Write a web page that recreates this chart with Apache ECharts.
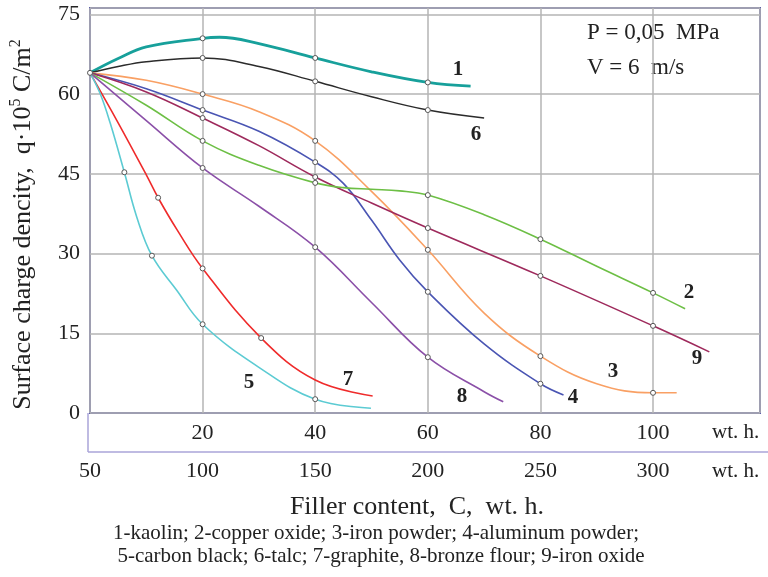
<!DOCTYPE html>
<html>
<head>
<meta charset="utf-8">
<title>Surface charge density vs filler content</title>
<script src="https://cdn.jsdelivr.net/npm/echarts@6/dist/echarts.min.js"></script>
<style>
html, body { margin: 0; padding: 0; background: #fff; }
#chart { width: 768px; height: 577px; }
</style>
</head>
<body>
<div id="chart"></div>
<script>
// values: [filler content on upper scale (wt. h.), q·10^5 C/m^2]
const kaolin = [[0, 64], [5, 66.7], [10, 68.9], [20, 70.5], [23, 70.7], [30, 69.5], [40, 66.8], [50, 64.2], [60, 62.2], [67.6, 61.5]];
const copperOxide = [[0, 64], [10, 57.9], [20, 51.2], [30, 46.6], [40, 43.3], [45, 42.4], [50, 42.1], [55, 41.8], [60, 41.0], [70, 37.3], [80, 32.7], [90, 27.6], [100, 22.6], [105.7, 19.6]];
const ironPowder = [[0, 64], [10, 62.6], [20, 60.0], [30, 56.7], [40, 51.2], [50, 41.7], [60, 30.7], [70, 18.8], [80, 10.7], [90, 5.5], [100, 3.8], [104.2, 3.8]];
const aluminumPowder = [[0, 64], [10, 61.0], [20, 57.0], [30, 53.0], [40, 47.2], [45, 43.2], [50, 36.3], [55, 28.8], [60, 22.8], [70, 13.0], [80, 5.5], [84.1, 3.4]];
const carbonBlack = [[0, 64], [1.8, 60.1], [3.6, 54.5], [6.1, 45.3], [8.3, 36.9], [11, 29.6], [15.4, 23.1], [20, 16.7], [30, 8.6], [40, 2.6], [49.9, 0.9]];
const talc = [[0, 64], [5, 65.2], [10, 66.1], [20, 66.8], [30, 65.2], [40, 62.4], [50, 59.5], [60, 57.0], [70, 55.5]];
const graphite = [[0, 64], [5, 54.6], [10, 44.8], [12.1, 40.5], [15.5, 34.4], [20, 27.2], [30.4, 14.1], [40, 6.2], [50.2, 3.2]];
const bronzeFlour = [[0, 64], [10, 55.0], [20, 46.1], [30, 38.9], [40, 31.2], [50, 20.8], [60, 10.5], [70, 4.0], [73.4, 2.1]];
const ironOxide = [[0, 64], [10, 60.4], [20, 55.5], [30, 50.3], [40, 44.4], [50, 39.5], [60, 34.8], [80, 25.8], [100, 16.4], [110, 11.5]];

// x positions that carry an open-circle marker
const kaolinMarks = [0, 20, 40, 60];
const copperOxideMarks = [20, 40, 60, 80, 100];
const ironPowderMarks = [20, 40, 60, 80, 100];
const aluminumPowderMarks = [20, 40, 60, 80];
const carbonBlackMarks = [6.1, 11, 20, 40];
const talcMarks = [20, 40, 60];
const graphiteMarks = [12.1, 20, 30.4];
const bronzeFlourMarks = [20, 40, 60];
const ironOxideMarks = [20, 40, 60, 80, 100];

const yTicks = [0, 15, 30, 45, 60, 75];
const upperTicks = [20, 40, 60, 80, 100];
const lowerTicks = [50, 100, 150, 200, 250, 300];

const FONT = 'Liberation Serif';
const TEXT = '#222';

const curves = [
    { no: '1', data: kaolin, marks: kaolinMarks, color: '#17a09b', width: 2.8, label: [458, 70] },
    { no: '6', data: talc, marks: talcMarks, color: '#2b2b2b', width: 1.5, label: [476, 135] },
    { no: '3', data: ironPowder, marks: ironPowderMarks, color: '#f9a064', width: 1.6, label: [613, 372] },
    { no: '4', data: aluminumPowder, marks: aluminumPowderMarks, color: '#4a55b3', width: 1.6, label: [573, 398] },
    { no: '9', data: ironOxide, marks: ironOxideMarks, color: '#9e2a5c', width: 1.6, label: [697, 359] },
    { no: '2', data: copperOxide, marks: copperOxideMarks, color: '#6dbf45', width: 1.6, label: [689, 293] },
    { no: '8', data: bronzeFlour, marks: bronzeFlourMarks, color: '#8b50a8', width: 1.6, label: [462, 397] },
    { no: '7', data: graphite, marks: graphiteMarks, color: '#ef2b2b', width: 1.6, label: [348, 380] },
    { no: '5', data: carbonBlack, marks: carbonBlackMarks, color: '#5ccbd3', width: 1.6, label: [249, 383] },
];

const chart = echarts.init(document.getElementById('chart'));

const series = curves.map((c) => ({
    name: c.no,
    type: 'line',
    smooth: 0.4,
    showAllSymbol: true,
    symbolSize: 5,
    lineStyle: { color: c.color, width: c.width },
    itemStyle: { color: '#fff', borderColor: '#555', borderWidth: 1 },
    emphasis: { disabled: true },
    data: c.data.map((p) => ({
        value: p,
        symbol: c.marks.includes(p[0]) ? 'circle' : 'none',
    })),
}));

const curveLabels = curves.map((c) => ({
    type: 'text',
    x: c.label[0],
    y: c.label[1],
    style: {
        text: c.no,
        font: 'bold 21px "Liberation Serif"',
        fill: TEXT,
        textAlign: 'center',
        textVerticalAlign: 'middle',
    },
}));

const option = {
    animation: false,
    textStyle: { fontFamily: FONT },
    grid: {
        left: 88,
        right: 8,
        top: 8,
        bottom: 164,
        show: true,
        borderColor: '#5b5ea8',
        borderWidth: 2,
    },
    xAxis: [
        {
            type: 'value',
            min: 0,
            max: 119,
            interval: 20,
            axisLine: { show: false },
            axisTick: { show: false },
            axisLabel: {
                margin: 9,
                fontSize: 22,
                color: TEXT,
                fontFamily: FONT,
                formatter: (v) => (upperTicks.includes(v) ? String(v) : ''),
            },
            splitLine: { lineStyle: { color: '#b4b4b4', width: 1.5 } },
        },
        {
            type: 'value',
            position: 'bottom',
            offset: 39,
            min: 50,
            max: 50 + 2.5 * 119,
            interval: 50,
            axisLine: { show: false },
            axisTick: { show: false },
            axisLabel: {
                margin: 8,
                fontSize: 22,
                color: TEXT,
                fontFamily: FONT,
                formatter: (v) => (lowerTicks.includes(v) ? String(v) : ''),
            },
            splitLine: { show: false },
            name: 'Filler content,  C,  wt. h.',
            nameLocation: 'middle',
            nameGap: 42,
            nameTextStyle: { fontSize: 26, color: TEXT, fontFamily: FONT, padding: [0, 16, 0, 0] },
        },
    ],
    yAxis: {
        type: 'value',
        min: 0,
        max: 76.2,
        interval: 15,
        axisLine: { show: false },
        axisTick: { show: false },
        axisLabel: {
            margin: 10,
            fontSize: 22,
            color: TEXT,
            fontFamily: FONT,
            formatter: (v) => (yTicks.includes(v) ? String(v) : ''),
        },
        splitLine: { lineStyle: { color: '#b4b4b4', width: 1.5 } },
        name: '{n|Surface charge dencity,  q·10}{s|5}{n| C/m}{s|2}',
        nameLocation: 'middle',
        nameGap: 52,
        nameTextStyle: {
            color: TEXT,
            padding: [0, 28, 0, 0],
            rich: {
                n: { fontSize: 26, fontFamily: FONT, color: TEXT, lineHeight: 30 },
                s: { fontSize: 16, fontFamily: FONT, color: TEXT, verticalAlign: 'top', lineHeight: 16 },
            },
        },
    },
    graphic: [
        // lower scale box
        { type: 'line', shape: { x1: 88, y1: 413, x2: 88, y2: 452 }, style: { stroke: '#aaa4d8', lineWidth: 1.5 } },
        { type: 'line', shape: { x1: 88, y1: 452, x2: 768, y2: 452 }, style: { stroke: '#aaa4d8', lineWidth: 1.5 } },
        { type: 'text', x: 712, y: 432, style: { text: 'wt. h.', font: '21px "Liberation Serif"', fill: TEXT, textVerticalAlign: 'middle' } },
        { type: 'text', x: 712, y: 471, style: { text: 'wt. h.', font: '21px "Liberation Serif"', fill: TEXT, textVerticalAlign: 'middle' } },
        // test conditions
        { type: 'text', x: 587, y: 33, style: { text: 'P = 0,05  MPa', font: '23px "Liberation Serif"', fill: TEXT, textVerticalAlign: 'middle' } },
        { type: 'text', x: 587, y: 68, style: { text: 'V = 6  m/s', font: '23px "Liberation Serif"', fill: TEXT, textVerticalAlign: 'middle' } },
        // legend caption
        {
            type: 'text', x: 376, y: 533,
            style: { text: '1-kaolin; 2-copper oxide; 3-iron powder; 4-aluminum powder;', font: '21px "Liberation Serif"', fill: TEXT, textAlign: 'center', textVerticalAlign: 'middle' },
        },
        {
            type: 'text', x: 381, y: 556,
            style: { text: '5-carbon black; 6-talc; 7-graphite, 8-bronze flour; 9-iron oxide', font: '21px "Liberation Serif"', fill: TEXT, textAlign: 'center', textVerticalAlign: 'middle' },
        },
        ...curveLabels,
    ],
    series: series,
};

chart.setOption(option);
</script>
</body>
</html>
